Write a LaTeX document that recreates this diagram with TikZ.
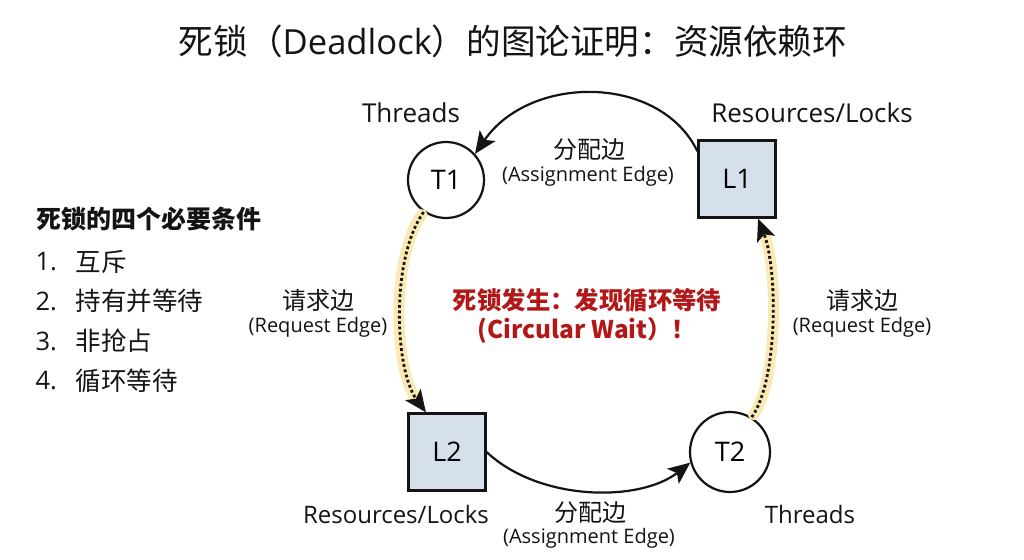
\documentclass[tikz,border=0pt]{standalone}
\usepackage{fontspec}
\setmainfont{Noto Sans CJK SC}
\newfontfamily\lat{Open Sans}
\usetikzlibrary{arrows.meta}
\definecolor{lockfill}{RGB}{214,224,236}
\definecolor{hl}{RGB}{250,233,178}
\definecolor{deadred}{RGB}{178,24,24}
\definecolor{ink}{RGB}{20,20,20}
\tikzset{
  circnode/.style={circle,draw=ink,line width=2.2pt,fill=white,minimum size=76pt,inner sep=0pt,font=\lat\fontsize{27}{31}\selectfont},
  locknode/.style={rectangle,draw=ink,line width=2.2pt,fill=lockfill,minimum size=77pt,inner sep=0pt,font=\lat\fontsize{27}{31}\selectfont},
  captxt/.style={text=ink,font=\lat\fontsize{26}{30}\selectfont},
  captxtb/.style={text=ink,font=\lat\fontsize{24}{28}\selectfont},
  zh/.style={text=ink,font=\fontsize{24}{28}\selectfont},
  en/.style={text=ink,font=\lat\fontsize{20}{24}\selectfont},
  tipstyle/.style={-{Stealth[length=22pt,width=19pt,inset=5pt]}},
  assign/.style={tipstyle,draw=ink,line width=2.2pt},
  glow/.style={draw=hl,line width=11pt,line cap=round,shorten >=18pt,shorten <=3pt},
  req/.style={tipstyle,draw=ink,line width=2.8pt,dash pattern=on 2.8pt off 2.6pt},
  item/.style={anchor=west,text=ink,font=\fontsize{25.5}{30}\selectfont},
  itemnum/.style={anchor=west,text=ink,font=\lat\fontsize{25.5}{30}\selectfont},
  redtxt/.style={text=deadred,font=\bfseries\fontsize{24.4}{28}\selectfont},
}
\begin{document}
\begin{tikzpicture}[x=1pt,y=-1pt]
\useasboundingbox (0,0) rectangle (1024,559);
\fill[white] (0,0) rectangle (1024,559);
% title
\node[text=ink,font=\fontsize{34.6}{40}\selectfont] (title) at (513,41) {死锁（{\lat Deadlock}）的图论证明：资源依赖环};
% nodes
\node[circnode] (T1) at (446,180) {T1};
\node[locknode] (L1) at (737,179) {L1};
\node[locknode] (L2) at (447,452) {L2};
\node[circnode,minimum size=80pt] (T2) at (730,452) {T2};
% captions
\node[captxt] (c1) at (411,113) {Threads};
\node[captxt] (c2) at (812,113) {Resources/Locks};
\node[captxtb] (c3) at (396,514) {Resources/Locks};
\node[captxtb] (c4) at (810,514) {Threads};
% assignment edges
\draw[assign] (L1.145) .. controls (660,74) and (530,74) .. (T1.42);
\draw[assign] (L2.east) .. controls (540,502) and (640,502) .. (T2.195);
% request edges
\path[glow] (T1.235) .. controls (390,260) and (395,370) .. (L2.118);
\draw[req] (T1.235) .. controls (390,260) and (395,370) .. (L2.118);
\path[glow] (T2.58) .. controls (778,380) and (778,270) .. (L1.298);
\draw[req] (T2.58) .. controls (778,380) and (778,270) .. (L1.298);
% edge labels
\node[zh] (a1) at (589,150) {分配边};
\node[en] (a1e) at (588,176) {(Assignment Edge)};
\node[zh] (a2) at (590,513) {分配边};
\node[en] (a2e) at (589,538) {(Assignment Edge)};
\node[zh] (r1) at (318,300) {请求边};
\node[en] (r1e) at (318,327) {(Request Edge)};
\node[zh] (r2) at (862,300) {请求边};
\node[en] (r2e) at (862,327) {(Request Edge)};
% center text
\node[redtxt] (m1) at (587,300) {死锁发生：发现循环等待};
\node[redtxt] (m2) at (587,330) {(Circular Wait）！};
% left list
\node[anchor=west,text=ink,font=\bfseries\fontsize{25}{29}\selectfont] (lh) at (33,219) {死锁的四个必要条件};
\node[itemnum] (n1) at (32,262) {1.};
\node[item] (i1) at (72,262) {互斥};
\node[itemnum] (n2) at (32,301) {2.};
\node[item] (i2) at (72,301) {持有并等待};
\node[itemnum] (n3) at (32,341) {3.};
\node[item] (i3) at (72,341) {非抢占};
\node[itemnum] (n4) at (32,381) {4.};
\node[item] (i4) at (72,381) {循环等待};
\end{tikzpicture}
\end{document}
